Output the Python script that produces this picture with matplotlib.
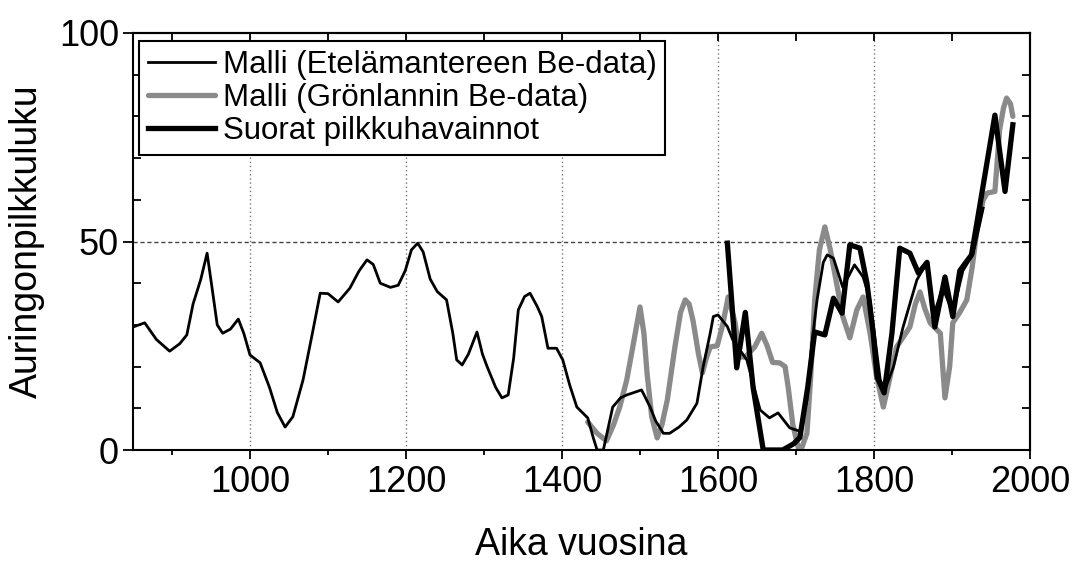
import matplotlib
matplotlib.use("Agg")
import matplotlib.pyplot as plt
from matplotlib.ticker import MultipleLocator, FixedLocator, NullFormatter

plt.rcParams['font.family'] = ['Liberation Sans', 'DejaVu Sans']

# Malli (Etelämantereen Be-data)
years_ant = [850, 865, 880, 897, 910, 919, 927, 937, 945, 952, 958, 965, 975, 985, 992,
             1000, 1013, 1025, 1035, 1045, 1055, 1068, 1080, 1090, 1100, 1113, 1128, 1140,
             1150, 1158, 1167, 1180, 1190, 1199, 1207, 1215, 1222, 1231, 1240, 1252, 1260,
             1265, 1272, 1280, 1291, 1298, 1304, 1315, 1323, 1331, 1338, 1344, 1352, 1359,
             1368, 1374, 1382, 1393, 1401, 1410, 1419, 1433, 1440, 1445, 1453, 1460, 1465,
             1475, 1483, 1502, 1513, 1520, 1530, 1538, 1550, 1560, 1573, 1581, 1590, 1594,
             1600, 1612, 1619, 1637, 1654, 1666, 1677, 1692, 1705, 1714, 1720, 1727, 1735,
             1740, 1748, 1760, 1775, 1786, 1795, 1808, 1814, 1825, 1837, 1855, 1868, 1876,
             1888, 1901, 1914, 1927, 1940]
vals_ant = [29.5, 30.5, 26.5, 23.7, 25.5, 27.6, 35, 41, 47.2, 38, 30, 28, 29, 31.4, 28,
            22.8, 20.9, 15, 9, 5.5, 8, 16.8, 28, 37.6, 37.5, 35.5, 38.8, 43,
            45.6, 44.5, 40, 39, 39.5, 43, 48, 49.6, 47.5, 41, 38, 36, 28,
            21.6, 20.4, 23, 28.3, 23, 20, 15, 12.5, 13.2, 22, 33.6, 36.8, 37.6,
            34.5, 32, 24.4, 24.4, 21.6, 15.5, 10.3, 7.7, 3, 0, 0, 6, 10.3,
            12.5, 13.2, 14.4, 10.3, 7, 4, 4, 5.5, 7.2, 11.2, 20, 28, 32,
            32.4, 29.6, 26.4, 21.6, 9.6, 7.7, 8.9, 5.3, 4.5, 12, 25, 36, 45,
            46.8, 46, 39, 44.4, 41.5, 36, 16.8, 14.4, 20, 29.3, 40.8, 45, 32,
            39, 32.8, 43, 47, 58]

# Malli (Grönlannin Be-data)
years_grl = [1433, 1445, 1457, 1466, 1474, 1483, 1492, 1500, 1505, 1509, 1515, 1522, 1528,
             1535, 1545, 1552, 1558, 1563, 1568, 1575, 1580, 1585, 1590, 1599, 1606, 1613,
             1622, 1628, 1635, 1647, 1656, 1663, 1670, 1679, 1686, 1690, 1696, 1703, 1707,
             1714, 1719, 1724, 1730, 1737, 1744, 1752, 1760, 1769, 1778, 1786, 1795, 1803,
             1812, 1820, 1829, 1846, 1853, 1859, 1865, 1872, 1885, 1891, 1897, 1901, 1910,
             1919, 1926, 1932, 1940, 1945, 1955, 1961, 1966, 1970, 1975, 1978]
vals_grl = [6.7, 4, 2.2, 6, 10.3, 16.8, 26, 34.3, 28, 18.5, 8, 2.9, 6,
            12, 25, 33, 36, 35, 31, 23, 18.5, 22, 24.7, 25, 30, 36.7,
            30.5, 22.3, 22.3, 24.7, 28, 25, 21, 20.9, 20, 15, 6, 0.5, 0.3,
            4, 18, 36, 48, 53.5, 48, 40, 32, 26.9, 33.6, 36.7, 28, 18,
            10.3, 17, 24.7, 29.5, 35, 37.9, 34, 30.5, 28, 12.5, 20, 30.5, 33,
            36, 44, 52.8, 60, 61.6, 62, 76.7, 82, 84.4, 83, 80]

# Suorat pilkkuhavainnot
years_obs = [1612, 1624, 1635, 1645, 1658, 1683, 1697, 1705, 1715, 1724, 1737, 1748, 1759,
             1769, 1782, 1791, 1799, 1804, 1813, 1823, 1833, 1846, 1857, 1868, 1878, 1891,
             1901, 1910, 1925, 1936, 1955, 1968, 1978]
vals_obs = [49.6, 19.7, 33, 15, 0, 0, 1.5, 3, 15, 28.3, 27.6, 36.4, 32.8,
            49.2, 48.4, 40, 28, 17.5, 13.7, 28, 48.4, 47.2, 42.4, 45, 29.5, 41.5,
            32, 43, 46.8, 59, 80.3, 62, 78]

labels = ["Malli (Etelämantereen Be-data)", "Malli (Grönlannin Be-data)", "Suorat pilkkuhavainnot"]
xticks = [1000, 1200, 1400, 1600, 1800, 2000]
yticks = [0, 50, 100]

fig = plt.figure(figsize=(10.72, 5.61), dpi=100)
ax = fig.add_axes([133/1072, 111/561, 897/1072, 417/561])

# grid
for gx in [1000, 1200, 1400, 1600, 1800]:
    ax.axvline(gx, color='#777777', lw=1.0, ls=(0, (1, 2)), zorder=0)
ax.axhline(50, color='#444444', lw=1.0, ls=(0, (3, 2)), zorder=0)

l2, = ax.plot(years_grl, vals_grl, color='#8a8a8a', lw=3.8, solid_joinstyle='round',
              solid_capstyle='round', zorder=2)
l1, = ax.plot(years_ant, vals_ant, color='black', lw=2.0, solid_joinstyle='round', zorder=3)
l3, = ax.plot(years_obs, vals_obs, color='black', lw=3.8, solid_joinstyle='round', zorder=4)

ax.set_xlim(850, 2000)
ax.set_ylim(0, 100)

for s in ax.spines.values():
    s.set_linewidth(1.5)

ax.xaxis.set_major_locator(FixedLocator(xticks))
ax.xaxis.set_minor_locator(MultipleLocator(100))
ax.yaxis.set_major_locator(FixedLocator(yticks))
ax.yaxis.set_minor_locator(MultipleLocator(10))

ax.tick_params(axis='x', which='major', direction='out', length=6.5, width=1.3, labelsize=26, pad=4)
ax.tick_params(axis='x', which='minor', direction='out', length=3.5, width=1.3)
ax.tick_params(axis='y', which='major', direction='out', length=7, width=1.3, labelsize=26, pad=3)
ax.tick_params(axis='y', which='minor', direction='in', length=5.5, width=1.3)

# top and right inward ticks
secx = ax.secondary_xaxis('top')
secx.xaxis.set_major_locator(MultipleLocator(100))
secx.xaxis.set_major_formatter(NullFormatter())
secx.tick_params(direction='in', length=5.5, width=1.3)
secx.spines['top'].set_linewidth(1.5)
secy = ax.secondary_yaxis('right')
secy.yaxis.set_major_locator(MultipleLocator(10))
secy.yaxis.set_major_formatter(NullFormatter())
secy.tick_params(direction='in', length=5.5, width=1.3)
secy.spines['right'].set_linewidth(1.5)

ax.set_xlabel("Aika vuosina", fontsize=27)
ax.set_ylabel("Auringonpilkkuluku", fontsize=27)
ax.xaxis.set_label_coords(0.5, -0.185)
ax.yaxis.set_label_coords(-0.098, 0.5)

leg = ax.legend([l1, l2, l3], labels, loc='upper left', bbox_to_anchor=(0.0067, 0.981),
                borderaxespad=0, fontsize=22.5, frameon=True, fancybox=False,
                edgecolor='black', framealpha=1, handlelength=2.15, handletextpad=0.25,
                labelspacing=0.1, borderpad=0.28)
leg.get_frame().set_linewidth(1.5)

fig.savefig("out.png", dpi=100)
